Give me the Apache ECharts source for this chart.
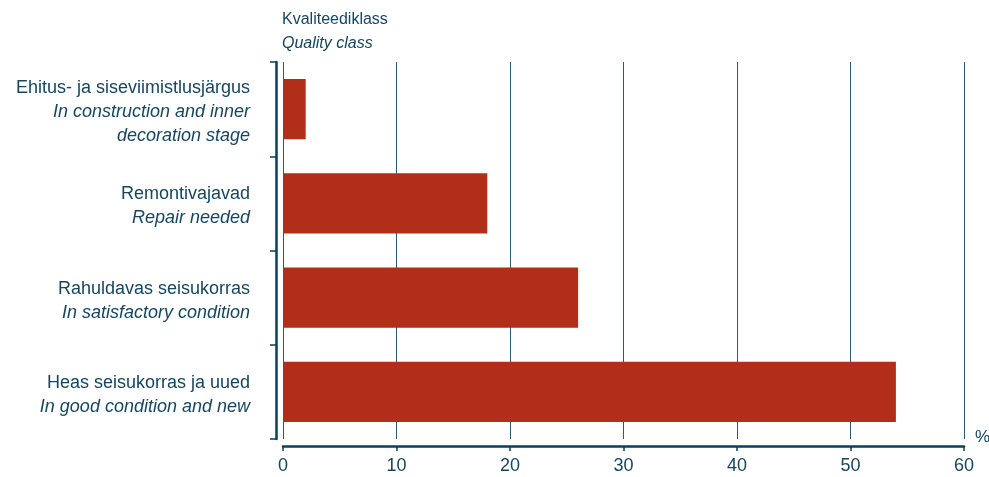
<!DOCTYPE html>
<html>
<head>
<meta charset="utf-8">
<script src="https://cdn.jsdelivr.net/npm/echarts@6/dist/echarts.min.js"></script>
<style>
  html, body { margin: 0; padding: 0; background: #fff; }
  #chart { width: 989px; height: 477px; }
</style>
</head>
<body>
<div id="chart"></div>
<script>
// categories from bottom to top (ECharts draws the first category at the bottom)
const categoriesEt = ['Heas seisukorras ja uued', 'Rahuldavas seisukorras', 'Remontivajavad', 'Ehitus- ja siseviimistlusjärgus'];
const categoriesEn = ['In good condition and new', 'In satisfactory condition', 'Repair needed', 'In construction and inner\ndecoration stage'];
const shares = [54, 26, 18, 2];
const xTicks = [0, 10, 20, 30, 40, 50, 60];

const ink = '#0e3d56';
const textInk = '#164660';
const barRed = '#b12e18';
const font = 'Liberation Sans, Arial, sans-serif';

const chart = echarts.init(document.getElementById('chart'));

chart.setOption({
    animation: false,
    textStyle: { fontFamily: font },
    title: {
        text: 'Kvaliteediklass',
        subtext: 'Quality class',
        left: 277,
        top: 7,
        itemGap: 8,
        textStyle: { color: textInk, fontSize: 16, fontWeight: 'normal' },
        subtextStyle: { color: textInk, fontSize: 16, fontStyle: 'italic' }
    },
    graphic: [{
        type: 'text',
        left: 975,
        top: 429,
        style: { text: '%', fill: textInk, fontSize: 17, fontFamily: font }
    }],
    grid: { left: 283, right: 25, top: 62, bottom: 38 },
    xAxis: {
        type: 'value',
        min: xTicks[0],
        max: xTicks[xTicks.length - 1],
        interval: 10,
        offset: 7,
        axisLine: { show: true, onZero: false, lineStyle: { color: ink, width: 2.5 } },
        axisTick: { show: true, length: 5, lineStyle: { color: ink, width: 1.5 } },
        axisLabel: { color: textInk, fontSize: 18, margin: 11 },
        splitLine: { show: true, lineStyle: { color: '#2e5a70', width: 1 } }
    },
    yAxis: {
        type: 'category',
        data: categoriesEt,
        offset: 7,
        axisLine: { show: true, onZero: false, lineStyle: { color: ink, width: 2.5 } },
        axisTick: { show: true, length: 6, lineStyle: { color: ink, width: 1.5 } },
        axisLabel: {
            margin: 26,
            align: 'right',
            lineHeight: 24,
            padding: [6, 0, 0, 0],
            formatter: (v, i) => {
                const en = categoriesEn[i].split('\n').map(s => '{en|' + s + '}').join('\n');
                return '{et|' + v + '}\n' + en;
            },
            rich: {
                et: { color: textInk, fontSize: 18, lineHeight: 24, align: 'right' },
                en: { color: textInk, fontSize: 18, lineHeight: 24, fontStyle: 'italic', align: 'right' }
            }
        }
    },
    series: [{
        type: 'bar',
        data: shares,
        barCategoryGap: '36%',
        itemStyle: { color: barRed }
    }]
});
</script>
</body>
</html>
